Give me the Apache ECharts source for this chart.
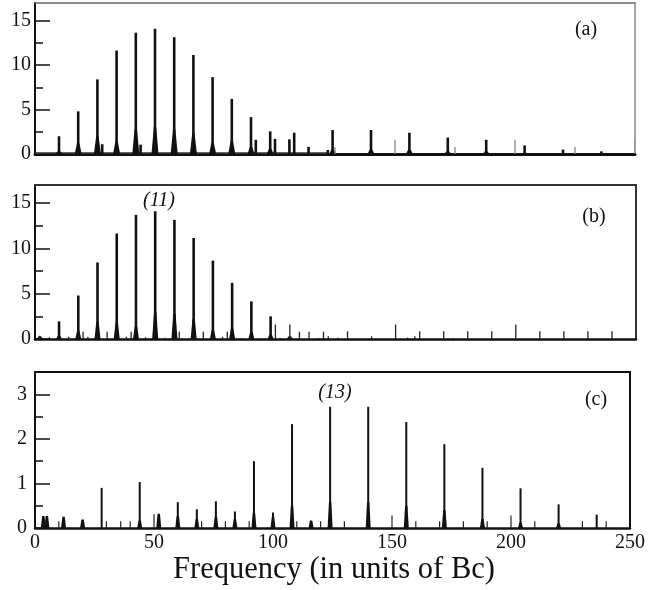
<!DOCTYPE html>
<html><head><meta charset="utf-8">
<script src="https://cdn.jsdelivr.net/npm/echarts@6/dist/echarts.min.js"></script>
<style>html,body{margin:0;padding:0;background:#fff}#c{width:648px;height:590px}</style>
</head><body><div id="c"></div>
<script>
// ---- tick values ----
const xTicks = [0, 50, 100, 150, 200, 250];
const yMajorAB = [0, 5, 10, 15];
const yMinorAB = [2.5, 7.5, 12.5];
const yMajorC = [0, 1, 2, 3];
const yMinorC = [0.5, 1.5, 2.5];

// ---- panel (a) ----
const aPeakFreq   = [10, 18, 26, 28, 34, 42, 44, 50, 58, 66, 74, 82, 90, 92, 98, 100, 106, 108, 114, 122, 124, 140, 156, 172, 188, 204, 220, 236];
const aPeakHeight = [2.0, 4.8, 8.4, 1.1, 11.65, 13.65, 1.05, 14.1, 13.15, 11.15, 8.65, 6.2, 4.15, 1.6, 2.55, 1.7, 1.65, 2.4, 0.8, 0.45, 2.7, 2.7, 2.4, 1.85, 1.6, 0.97, 0.5, 0.3];
const aSkirtFreq   = [10, 18, 26, 34, 42, 50, 58, 66, 74, 82, 90, 98, 124, 140, 156, 172, 188];
const aSkirtHeight = [0.3, 1.2, 2.0, 1.4, 2.8, 3.05, 2.8, 2.3, 1.3, 1.45, 0.8, 0.6, 0.5, 0.5, 0.5, 0.3, 0.3];
const aGreyFreq   = [125, 150, 175, 200, 225, 250];
const aGreyHeight = [0.75, 1.6, 0.8, 1.6, 0.8, 1.6];
const aFloorFreq  = [0, 122];
const aFloorLevel = [0.2];

// ---- panel (b) ----
const bPeakFreq   = [10, 18, 26, 34, 42, 50, 58, 66, 74, 82, 90, 98];
const bPeakHeight = [1.95, 4.8, 8.45, 11.65, 13.7, 14.1, 13.15, 11.15, 8.65, 6.2, 4.15, 2.5];
const bSkirtFreq   = [2, 10, 18, 26, 34, 42, 50, 58, 66, 74, 82, 90, 98, 106];
const bSkirtHeight = [0.3, 0.35, 0.9, 1.9, 1.8, 1.4, 3.0, 2.75, 2.2, 1.0, 1.2, 0.8, 0.5, 0.3];
const bThinFreq   = [2, 6, 14, 20, 22, 30, 38, 40, 46, 54, 60, 70, 78, 80, 86, 94, 100, 102, 106, 110, 114, 118, 120, 122, 126, 130, 140, 150, 155, 158, 160, 170, 174, 180, 190, 200, 210, 220, 230, 240];
const bThinHeight = [0.35, 0.2, 0.25, 0.8, 0.25, 0.8, 0.25, 0.8, 0.2, 0.15, 0.8, 0.8, 0.25, 0.8, 0.1, 0.1, 1.6, 0.1, 1.6, 0.8, 0.8, 0.1, 0.8, 0.3, 0.15, 0.85, 0.3, 1.6, 0.15, 0.3, 0.85, 0.85, 0.1, 0.85, 0.85, 1.6, 0.85, 0.85, 0.85, 0.85];

// ---- panel (c) ----
const cPeakFreq   = [28, 44, 60, 68, 76, 84, 92, 100, 108, 124, 140, 156, 172, 188, 204, 220, 236];
const cPeakHeight = [0.9, 1.03, 0.58, 0.42, 0.6, 0.37, 1.5, 0.35, 2.33, 2.72, 2.72, 2.38, 1.88, 1.35, 0.89, 0.53, 0.3];
const cSkirtFreq   = [3.5, 5, 12, 20, 44, 52, 60, 68, 76, 84, 92, 100, 108, 116, 124, 140, 156, 172, 188, 204, 220];
const cSkirtHeight = [0.27, 0.27, 0.25, 0.19, 0.17, 0.32, 0.27, 0.2, 0.25, 0.2, 0.34, 0.25, 0.5, 0.17, 0.58, 0.58, 0.5, 0.4, 0.2, 0.12, 0.1];
const cThinFreq   = [10, 30, 36, 40, 50, 70, 80, 90, 110, 120, 130, 150, 160, 170, 180, 190, 200, 210, 230, 240];
const cThinHeight = [0.15, 0.15, 0.15, 0.15, 0.31, 0.15, 0.15, 0.15, 0.15, 0.15, 0.15, 0.28, 0.15, 0.15, 0.15, 0.15, 0.28, 0.15, 0.15, 0.15];

const INK = '#111';
const FONT = '"Liberation Serif", "Times New Roman", serif';

const grids = [
  {left: 35, top: 3,   width: 600, height: 151},
  {left: 35, top: 185, width: 601, height: 154},
  {left: 35, top: 372, width: 597, height: 156}
];
const yMax = [17, 17, 3.5];
const yMaj = [yMajorAB, yMajorAB, yMajorC];
const yMin = [yMinorAB, yMinorAB, yMinorC];
const frame = [
  {left: {c: INK, w: 2}, bottom: {c: INK, w: 3}, top: {c: '#666', w: 1.5}, right: {c: '#888', w: 1.5}},
  {left: {c: INK, w: 2}, bottom: {c: INK, w: 2.5}, top: {c: '#333', w: 2}, right: {c: '#333', w: 2}},
  {left: {c: INK, w: 2}, bottom: {c: INK, w: 2.5}, top: {c: INK, w: 2}, right: {c: INK, w: 2}}
];

const xAxes = [], yAxes = [];
grids.forEach((g, i) => {
  xAxes.push({
    type: 'value', gridIndex: i, min: 0, max: 250, interval: 50, position: 'bottom',
    axisLine: {show: true, onZero: false, lineStyle: {color: frame[i].bottom.c, width: frame[i].bottom.w}},
    axisTick: {show: false}, splitLine: {show: false},
    axisLabel: {show: i === 2, customValues: xTicks, color: INK, fontFamily: FONT, fontSize: 20, margin: 5}
  });
  xAxes.push({
    type: 'value', gridIndex: i, min: 0, max: 250, position: 'top',
    axisLine: {show: true, onZero: false, lineStyle: {color: frame[i].top.c, width: frame[i].top.w}},
    axisTick: {show: false}, axisLabel: {show: false}, splitLine: {show: false}
  });
  yAxes.push({
    type: 'value', gridIndex: i, min: 0, max: yMax[i], position: 'left',
    axisLine: {show: true, onZero: false, lineStyle: {color: frame[i].left.c, width: frame[i].left.w}},
    axisTick: {show: true, inside: true, length: 15, customValues: yMaj[i], lineStyle: {color: INK, width: 1.5}},
    axisLabel: {show: true, customValues: yMaj[i], color: INK, fontFamily: FONT, fontSize: 20, margin: i === 2 ? 8 : 4},
    splitLine: {show: false}
  });
  yAxes.push({
    type: 'value', gridIndex: i, min: 0, max: yMax[i], position: 'left',
    axisLine: {show: false},
    axisTick: {show: true, inside: true, length: 8, customValues: yMin[i], lineStyle: {color: INK, width: 1.5}},
    axisLabel: {show: false}, splitLine: {show: false}
  });
  yAxes.push({
    type: 'value', gridIndex: i, min: 0, max: yMax[i], position: 'right',
    axisLine: {show: true, onZero: false, lineStyle: {color: frame[i].right.c, width: frame[i].right.w}},
    axisTick: {show: false}, axisLabel: {show: false}, splitLine: {show: false}
  });
});

function spikes(panel, freqs, heights, width, color, z) {
  return {
    type: 'custom', xAxisIndex: panel * 2, yAxisIndex: panel * 3, clip: true, z: z || 3,
    silent: true, animation: false,
    data: freqs.map((f, k) => [f, heights[k]]),
    renderItem: (params, api) => {
      const b = api.coord([api.value(0), 0]);
      const t = api.coord([api.value(0), api.value(1)]);
      return {type: 'rect', shape: {x: b[0] - width / 2, y: t[1], width: width, height: b[1] - t[1]}, style: {fill: color}};
    }
  };
}
function skirts(panel, freqs, heights, width, color) {
  return {
    type: 'custom', xAxisIndex: panel * 2, yAxisIndex: panel * 3, clip: true, z: 3,
    silent: true, animation: false,
    data: freqs.map((f, k) => [f, heights[k]]),
    renderItem: (params, api) => {
      const b = api.coord([api.value(0), 0]);
      const t = api.coord([api.value(0), api.value(1)]);
      return {type: 'polygon', shape: {points: [[b[0] - width / 2, b[1]], [b[0] - 1.2, t[1]], [b[0] + 1.2, t[1]], [b[0] + width / 2, b[1]]]}, style: {fill: color}};
    }
  };
}
function floorBand(panel, range, level, color) {
  return {
    type: 'custom', xAxisIndex: panel * 2, yAxisIndex: panel * 3, clip: true, z: 2,
    silent: true, animation: false,
    data: [[range[0], range[1], level[0]]],
    renderItem: (params, api) => {
      const p0 = api.coord([api.value(0), 0]);
      const p1 = api.coord([api.value(1), api.value(2)]);
      return {type: 'rect', shape: {x: p0[0], y: p1[1], width: p1[0] - p0[0], height: p0[1] - p1[1]}, style: {fill: color}};
    }
  };
}

const series = [
  floorBand(0, aFloorFreq, aFloorLevel, '#333'),
  skirts(0, aSkirtFreq, aSkirtHeight, 7, INK),
  spikes(0, aGreyFreq, aGreyHeight, 1.3, '#888'),
  spikes(0, aPeakFreq, aPeakHeight, 2.6, INK),
  skirts(1, bSkirtFreq, bSkirtHeight, 6, INK),
  spikes(1, bThinFreq, bThinHeight, 1.3, '#222'),
  spikes(1, bPeakFreq, bPeakHeight, 2.6, INK),
  skirts(2, cSkirtFreq, cSkirtHeight, 5, INK),
  spikes(2, cThinFreq, cThinHeight, 1.2, '#222'),
  spikes(2, cPeakFreq, cPeakHeight, 2.0, INK)
];

const txt = (text, x, y, size, italic) => ({
  type: 'text', x: x, y: y, silent: true,
  style: {text: text, fill: INK, font: (italic ? 'italic ' : '') + size + 'px ' + FONT, align: 'center', verticalAlign: 'middle'}
});

const chart = echarts.init(document.getElementById('c'), null, {renderer: 'canvas'});
chart.setOption({
  animation: false,
  backgroundColor: '#fff',
  grid: grids.map(g => Object.assign({containLabel: false}, g)),
  xAxis: xAxes,
  yAxis: yAxes,
  series: series,
  graphic: [
    txt('(a)', 586, 30, 20),
    txt('(b)', 594, 217, 20),
    txt('(c)', 596, 400, 20),
    txt('(11)', 159, 201, 20, true),
    txt('(13)', 335, 393, 20, true),
    txt('Frequency (in units of Bc)', 334, 570, 30.5)
  ]
});
</script>
</body></html>
